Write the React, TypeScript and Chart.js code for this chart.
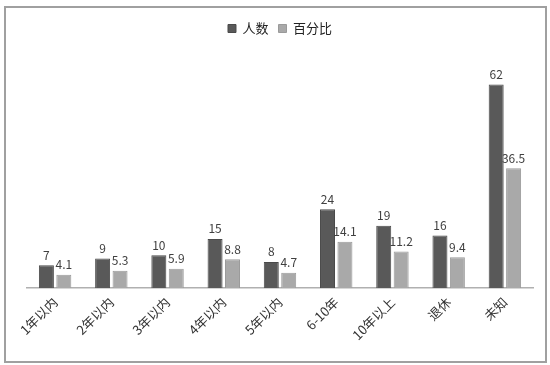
import React, { useEffect, useRef } from "react";
import { Chart, registerables } from "chart.js";

Chart.register(...registerables);

const categories = ["1年以内", "2年以内", "3年以内", "4年以内", "5年以内", "6-10年", "10年以上", "退休", "未知"];
const countValues = [7, 9, 10, 15, 8, 24, 19, 16, 62];
const percentValues = [4.1, 5.3, 5.9, 8.8, 4.7, 14.1, 11.2, 9.4, 36.5];
const seriesNames = ["人数", "百分比"];

const FONT = "'Noto Sans CJK SC', 'DejaVu Sans', sans-serif";

const valueLabels = {
  id: "valueLabels",
  afterDatasetsDraw(chart: any) {
    const ctx = chart.ctx;
    ctx.save();
    ctx.font = `12px ${FONT}`;
    ctx.fillStyle = "#404040";
    ctx.textAlign = "center";
    ctx.textBaseline = "bottom";
    chart.data.datasets.forEach((ds: any, i: number) => {
      const meta = chart.getDatasetMeta(i);
      meta.data.forEach((bar: any, j: number) => {
        ctx.fillText(String(ds.data[j]), bar.x, bar.y - 4);
      });
    });
    ctx.restore();
  },
};

export default function App() {
  const ref = useRef<HTMLCanvasElement>(null);
  useEffect(() => {
    document.body.style.margin = "0";
    const chart = new Chart(ref.current!, {
      type: "bar",
      data: {
        labels: categories,
        datasets: [
          { label: seriesNames[0], data: countValues, backgroundColor: "#595959", borderColor: "#4a4a4a", borderWidth: 1 },
          { label: seriesNames[1], data: percentValues, backgroundColor: "#a9a9a9", borderColor: "#9a9a9a", borderWidth: 1 },
        ],
      },
      options: {
        animation: false,
        responsive: false,
        layout: { padding: { left: 27, right: 17, top: 12, bottom: 16 } },
        datasets: { bar: { categoryPercentage: 0.62, barPercentage: 0.86 } },
        plugins: {
          legend: {
            position: "top",
            labels: { boxWidth: 8, boxHeight: 8, padding: 10, color: "#222", font: { size: 13, family: FONT } },
          },
          tooltip: { enabled: false },
        },
        scales: {
          x: {
            grid: { display: false, drawTicks: false },
            border: { color: "#b0b0b0", width: 1.5 },
            ticks: { minRotation: 45, maxRotation: 45, padding: 6, color: "#333", font: { size: 13, family: FONT } },
          },
          y: {
            display: false,
            min: 0,
            max: 74,
          },
        },
      },
      plugins: [valueLabels],
    });
    return () => chart.destroy();
  }, []);
  return (
    <div style={{ position: "relative", width: 550, height: 365 }}>
      <canvas ref={ref} width={550} height={365} />
      <div style={{ position: "absolute", left: 4, top: 6, width: 539, height: 353, border: "2px solid #a0a0a0", pointerEvents: "none" }} />
    </div>
  );
}
